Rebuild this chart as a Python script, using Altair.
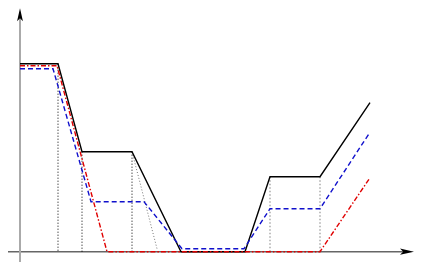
import altair as alt
import pandas as pd

solid_x = [0, 38, 62, 112, 161, 225, 250, 300, 350]
solid_y = [188, 188, 100, 100, 0, 0, 75, 75, 149]

dashed_x = [0, 33, 71, 124, 162, 224, 250, 300, 349]
dashed_y = [183, 183, 50, 50, 3, 3, 43, 43, 118]

dashdot_x = [0, 37, 87, 300, 350]
dashdot_y = [186, 186, 0, 0, 74]

guide_dark_x = [38, 62, 112]
guide_dark_top = [188, 100, 100]
guide_light_x = [250, 300]
guide_light_top = [75, 75]
slant_x = [112, 137]
slant_y = [100, 3]

axis_x_range = [-13, 385]
axis_y_range = [-10.3, 240]
arrow_x = [387, 0]
arrow_y = [0, 237]

XDOM = [-12, 394]
YDOM = [-10.3, 243.7]
xs = alt.Scale(domain=XDOM, nice=False, zero=False)
ys = alt.Scale(domain=YDOM, nice=False, zero=False)


def line_df(xv, yv):
    return pd.DataFrame({"x": xv, "y": yv, "i": list(range(len(xv)))})


def line_layer(df, color, dash, width):
    kw = dict(color=color, strokeWidth=width, clip=False)
    if dash:
        kw["strokeDash"] = dash
    return alt.Chart(df).mark_line(**kw).encode(
        x=alt.X("x:Q", scale=xs, axis=None),
        y=alt.Y("y:Q", scale=ys, axis=None),
        order="i:Q",
    )


# axes
xaxis = alt.Chart(pd.DataFrame({"x": [axis_x_range[0]], "x2": [axis_x_range[1]], "y": [0]})).mark_rule(
    color="#666666", strokeWidth=1.5
).encode(x=alt.X("x:Q", scale=xs, axis=None), x2="x2:Q", y=alt.Y("y:Q", scale=ys, axis=None))

yaxis = alt.Chart(pd.DataFrame({"x": [0], "y": [axis_y_range[0]], "y2": [axis_y_range[1]]})).mark_rule(
    color="#aaaaaa", strokeWidth=2
).encode(x=alt.X("x:Q", scale=xs, axis=None), y=alt.Y("y:Q", scale=ys, axis=None), y2="y2:Q")

arrow_right = alt.Chart(pd.DataFrame({"x": [arrow_x[0]], "y": [arrow_y[0]]})).mark_point(
    shape="M 1 0 L -1 -0.45 L -0.55 0 L -1 0.45 Z", filled=True, color="black", opacity=1, size=196, strokeWidth=0
).encode(x=alt.X("x:Q", scale=xs, axis=None), y=alt.Y("y:Q", scale=ys, axis=None))

arrow_up = alt.Chart(pd.DataFrame({"x": [arrow_x[1]], "y": [arrow_y[1]]})).mark_point(
    shape="M 0 -1 L -0.45 1 L 0 0.55 L 0.45 1 Z", filled=True, color="black", opacity=1, size=169, strokeWidth=0
).encode(x=alt.X("x:Q", scale=xs, axis=None), y=alt.Y("y:Q", scale=ys, axis=None))

# dotted guides
dark_guides = alt.Chart(pd.DataFrame({"x": guide_dark_x, "top": guide_dark_top, "bot": [0] * len(guide_dark_x)})).mark_rule(
    color="#000000", strokeWidth=1, strokeDash=[1, 2]
).encode(x=alt.X("x:Q", scale=xs, axis=None), y=alt.Y("top:Q", scale=ys, axis=None), y2="bot:Q")

light_guides = alt.Chart(pd.DataFrame({"x": guide_light_x, "top": guide_light_top, "bot": [0] * len(guide_light_x)})).mark_rule(
    color="#aaaaaa", strokeWidth=1.5, strokeDash=[1.5, 2]
).encode(x=alt.X("x:Q", scale=xs, axis=None), y=alt.Y("top:Q", scale=ys, axis=None), y2="bot:Q")

slant = line_layer(line_df(slant_x, slant_y), "#777777", [1, 2], 1)

solid = line_layer(line_df(solid_x, solid_y), "black", None, 1.4)
dashed = line_layer(line_df(dashed_x, dashed_y), "#1010cc", [5, 3], 1.4)
dashdot = line_layer(line_df(dashdot_x, dashdot_y), "#e00000", [5, 2, 1.5, 2], 1.4)

chart = alt.layer(
    xaxis, yaxis, dark_guides, light_guides, slant, solid, dashed, dashdot, arrow_right, arrow_up
).properties(
    width=406, height=254, padding=0, autosize=alt.AutoSizeParams(type="none")
).configure_view(stroke=None)

chart.save("out.html", embed_options={"renderer": "svg", "actions": False})
